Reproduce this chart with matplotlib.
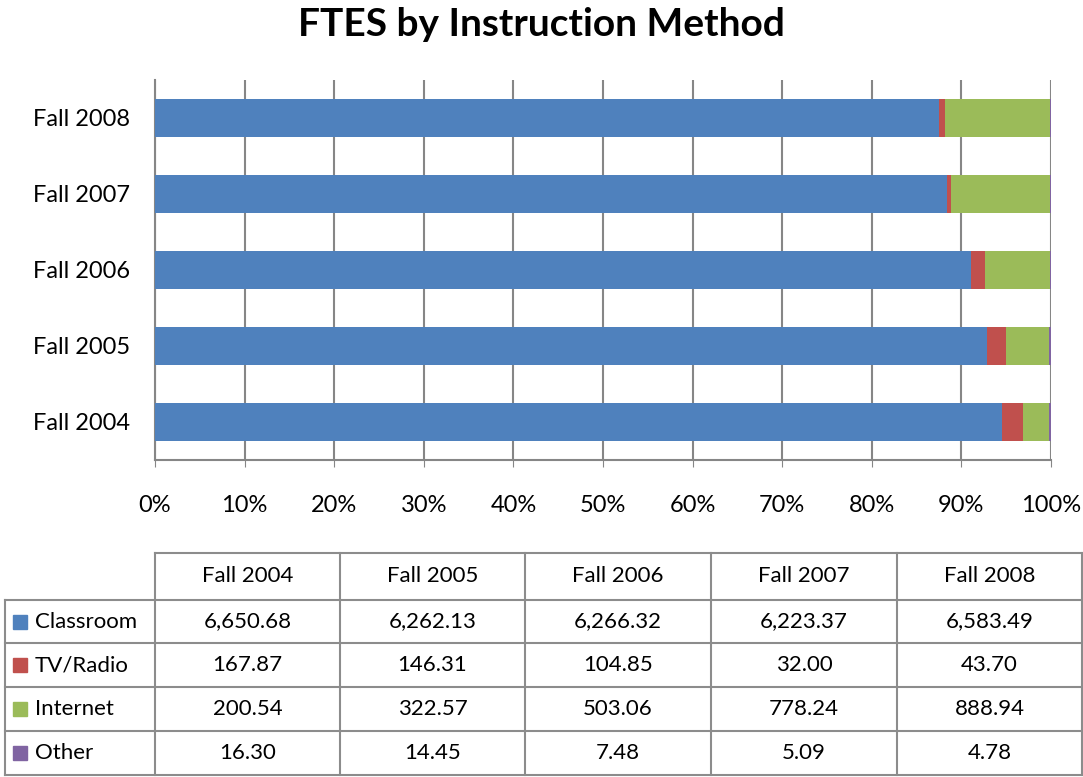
import numpy as np
import matplotlib.pyplot as plt
from matplotlib.patches import Rectangle
from matplotlib.lines import Line2D

plt.rcParams['font.family'] = ['Lato', 'DejaVu Sans']

# Data
terms = ['Fall 2004', 'Fall 2005', 'Fall 2006', 'Fall 2007', 'Fall 2008']
methods = ['Classroom', 'TV/Radio', 'Internet', 'Other']
classroom = [6650.68, 6262.13, 6266.32, 6223.37, 6583.49]
tv_radio = [167.87, 146.31, 104.85, 32.00, 43.70]
internet = [200.54, 322.57, 503.06, 778.24, 888.94]
other = [16.30, 14.45, 7.48, 5.09, 4.78]
colors = ['#4F81BD', '#C0504D', '#9BBB59', '#8064A2']

W, H = 1083, 777
fig = plt.figure(figsize=(W / 100, H / 100), dpi=100)

def fx(px):
    return px / W

def fy(py):
    return 1 - py / H

# plot area
ax = fig.add_axes([fx(155), fy(460), fx(1051) - fx(155), fy(80) - fy(460)])
vals = np.array([classroom, tv_radio, internet, other])
pct = vals / vals.sum(axis=0)
ypos = np.arange(len(terms))
left = np.zeros(len(terms))
for i, m in enumerate(methods):
    ax.barh(ypos, pct[i], left=left, height=0.5, color=colors[i],
            label=m, zorder=3)
    left += pct[i]

ax.set_xlim(0, 1)
ax.set_ylim(-0.5, len(terms) - 0.5)
ticks = np.arange(0, 1.01, 0.1)
ax.set_xticks(ticks)
ax.set_xticklabels([f'{int(round(t*100))}%' for t in ticks], fontsize=17)
ax.set_yticks(ypos)
ax.set_yticklabels(terms, fontsize=17)
ax.grid(axis='x', color='#868686', linewidth=1.5, zorder=0)
for s in ['top', 'right']:
    ax.spines[s].set_visible(False)
for s in ['left', 'bottom']:
    ax.spines[s].set_color('#868686')
    ax.spines[s].set_linewidth(1.5)
ax.tick_params(axis='y', length=0, pad=18)
ax.tick_params(axis='x', length=5, color='#868686', pad=20)

fig.text(0.5, fy(24), 'FTES by Instruction Method', ha='center', va='center',
         fontsize=28, fontweight='bold')

# data table
col_x = [5, 155, 340, 525, 711, 897, 1082]
row_y = [553, 600, 643, 687, 731, 775]
lc = '#8c8c8c'
lw = 1.5
for j, yv in enumerate(row_y):
    x0 = col_x[1] if j == 0 else col_x[0]
    fig.add_artist(Line2D([fx(x0), fx(col_x[-1])], [fy(yv), fy(yv)], color=lc, lw=lw))
for k, xv in enumerate(col_x):
    y0 = row_y[1] if k == 0 else row_y[0]
    fig.add_artist(Line2D([fx(xv), fx(xv)], [fy(y0), fy(row_y[-1])], color=lc, lw=lw))

for k, t in enumerate(terms):
    cx = (col_x[k + 1] + col_x[k + 2]) / 2
    fig.text(fx(cx), fy((row_y[0] + row_y[1]) / 2), t, ha='center', va='center', fontsize=16)

for i, m in enumerate(methods):
    cy = (row_y[i + 1] + row_y[i + 2]) / 2
    fig.add_artist(Rectangle((fx(13), fy(cy + 7)), fx(14), fy(0) - fy(14),
                             color=colors[i], transform=fig.transFigure))
    fig.text(fx(35), fy(cy), m, ha='left', va='center', fontsize=16)
    for k in range(len(terms)):
        cx = (col_x[k + 1] + col_x[k + 2]) / 2
        fig.text(fx(cx), fy(cy), f'{vals[i, k]:,.2f}', ha='center', va='center', fontsize=16)

fig.savefig('out.png', dpi=100)
